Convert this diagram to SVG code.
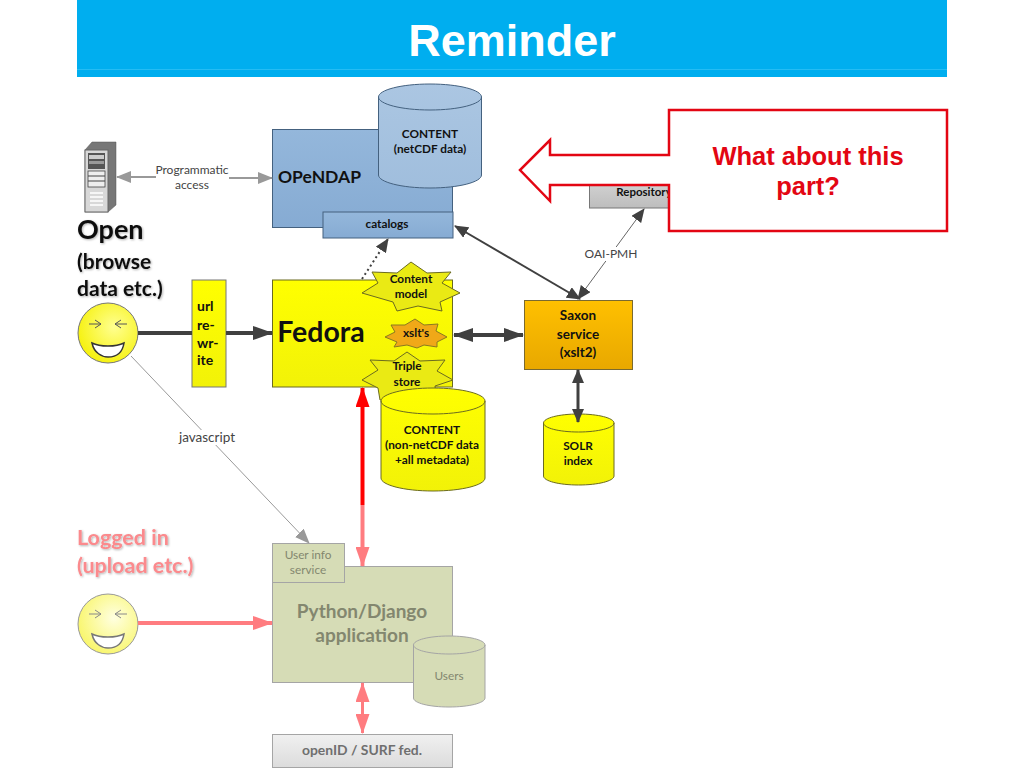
<svg xmlns="http://www.w3.org/2000/svg" width="1024" height="768" viewBox="0 0 1024 768">
<style>
text{font-family:"Lato","Carlito","Liberation Sans",sans-serif;font-weight:700;text-anchor:middle;fill:#111}
.s{font-size:11.8px}
.m{font-size:13.5px}
.l{font-weight:400;font-size:12px;fill:#444}
.a{font-family:"Liberation Sans",Arial,sans-serif}
.pk{fill:#fb8a8d}
.gr{fill:#83876f}
</style>
<defs>
<linearGradient id="blue" x1="0" y1="0" x2="0" y2="1"><stop offset="0" stop-color="#94b7db"/><stop offset="1" stop-color="#86abd3"/></linearGradient>
<linearGradient id="cyl" x1="0" y1="0" x2="0" y2="1"><stop offset="0" stop-color="#abc6e2"/><stop offset="1" stop-color="#a0bedd"/></linearGradient>
<linearGradient id="yel" x1="0" y1="0" x2="0" y2="1"><stop offset="0" stop-color="#ffff00"/><stop offset="1" stop-color="#f2f208"/></linearGradient>
<linearGradient id="or" x1="0" y1="0" x2="0" y2="1"><stop offset="0" stop-color="#ffc000"/><stop offset="1" stop-color="#e8a800"/></linearGradient>
<linearGradient id="gy" x1="0" y1="0" x2="0" y2="1"><stop offset="0" stop-color="#f0f0f0"/><stop offset="1" stop-color="#dcdcdc"/></linearGradient>
<linearGradient id="rp" x1="0" y1="0" x2="0" y2="1"><stop offset="0" stop-color="#d4d4d4"/><stop offset="1" stop-color="#bdbdbd"/></linearGradient>
<radialGradient id="sm" cx="0.6" cy="0.4" r="0.7"><stop offset="0" stop-color="#ffff90"/><stop offset="1" stop-color="#f5f000"/></radialGradient>
<radialGradient id="sm2" cx="0.6" cy="0.4" r="0.7"><stop offset="0" stop-color="#ffffe0"/><stop offset="1" stop-color="#f8f560"/></radialGradient>
<filter id="sh" x="-10%" y="-10%" width="120%" height="130%"><feDropShadow dx="1" dy="1" stdDeviation="1" flood-color="#000" flood-opacity="0.3"/></filter>
<marker id="hd" markerUnits="userSpaceOnUse" markerWidth="20" markerHeight="14" refX="19" refY="7" orient="auto-start-reverse"><path d="M0 0L20 7L0 14Z" fill="#404040"/></marker>
<marker id="hs" markerUnits="userSpaceOnUse" markerWidth="14" markerHeight="12" refX="13" refY="6" orient="auto-start-reverse"><path d="M0 0L14 6L0 12Z" fill="#404040"/></marker>
<marker id="hg" markerUnits="userSpaceOnUse" markerWidth="15" markerHeight="12" refX="14" refY="6" orient="auto"><path d="M0 0L15 6L0 12Z" fill="#999"/></marker>
<marker id="hp" markerUnits="userSpaceOnUse" markerWidth="20" markerHeight="14" refX="19" refY="7" orient="auto-start-reverse"><path d="M0 0L20 7L0 14Z" fill="#ff7c80"/></marker>
<marker id="hr" markerUnits="userSpaceOnUse" markerWidth="20" markerHeight="14" refX="19" refY="7" orient="auto"><path d="M0 0L20 7L0 14Z" fill="#ff0000"/></marker>
</defs>
<rect width="1024" height="768" fill="#fff"/>
<g id="title"><rect x="77" y="0" width="870" height="77" fill="#00aeef"/><rect x="77" y="69" width="870" height="1" fill="#25bcf3"/>
<text class="a" x="512" y="56" style="fill:#fff;font-size:45px">Reminder</text></g>

<g id="opendap"><rect x="272.500" y="129.500" width="180" height="98" fill="url(#blue)" stroke="#44617f"/>
<text x="319.500" y="183" style="font-size:17.500px">OPeNDAP</text></g>
<g id="content-netcdf"><path d="M378.500 97V175C378.500 182 401 188 430 188S481.500 182 481.500 175V97C481.500 90 459 84 430 84S378.500 90 378.500 97Z" fill="url(#cyl)" stroke="#44617f"/><path d="M378.500 97C378.500 104 401 110 430 110S481.500 104 481.500 97" fill="none" stroke="#44617f"/>
<text class="s" x="430" y="138">CONTENT</text><text class="s" x="430" y="153">(netCDF data)</text></g>
<g id="catalogs"><rect x="323" y="212" width="130" height="26" fill="url(#blue)" stroke="#44617f"/><text class="s" x="387" y="228">catalogs</text></g>

<g id="server"><path d="M85 150L92 142H116V205L108 212H85Z" fill="#777" stroke="#555" stroke-width="0.500"/><rect x="85" y="150" width="23" height="62" fill="#d8d8d8" stroke="#666"/><rect x="88" y="153" width="17" height="16" fill="#555"/><rect x="89" y="155" width="15" height="4" fill="#ccc"/><rect x="89" y="161" width="15" height="3" fill="#999"/><rect x="88" y="171" width="17" height="16" fill="#eee" stroke="#444" stroke-width="0.800"/><path d="M88 176H105M88 181H105" stroke="#444"/><path d="M90 193H103M90 197H103M90 201H103M90 205H103" stroke="#fff" stroke-width="1.500"/></g>

<g id="open-label" filter="url(#sh)"><text x="77" y="239" style="font-size:27px;text-anchor:start">Open</text><text x="77" y="269" style="font-size:21px;text-anchor:start">(browse</text><text x="77" y="296" style="font-size:21px;text-anchor:start">data etc.)</text></g>
<g id="smiley-open"><circle cx="108" cy="333" r="30" fill="url(#sm)" stroke="#777"/><path d="M89 324H101M95 320L101 324L95 328M127 324H115M121 320L115 324L121 328" fill="none" stroke="#555"/><path d="M92 343C100 347 116 347 124 343C122 356 112 357 108 357C102 357 94 353 92 343Z" fill="#fff" stroke="#333" stroke-width="1.500"/></g>
<g id="url-rewrite"><rect x="192" y="280" width="34" height="107" fill="url(#yel)" stroke="#777"/><text x="197" y="311" style="font-size:14px;text-anchor:start">url</text><text x="197" y="330" style="font-size:14px;text-anchor:start">re-</text><text x="197" y="348" style="font-size:14px;text-anchor:start">wr-</text><text x="197" y="365" style="font-size:14px;text-anchor:start">ite</text></g>
<g id="fedora"><rect x="272.500" y="280" width="180" height="107" fill="url(#yel)" stroke="#6b6b20"/><text x="321" y="342" style="font-size:28.500px">Fedora</text></g>
<g id="star-content"><polygon points="411,262 427,273 451,272 442,283 460,293 440,302 442,311 418,306 397,311 393,302 362,293 378,283 372,272 397,273" fill="#eaea14" stroke="#6b6b20"/><text class="s" x="411" y="283">Content</text><text class="s" x="411" y="298">model</text></g>
<g id="star-xslt"><polygon points="415,319 424,325 438,324 436,331 447,337 437,342 437,347 424,345 417,348 407,345 394,347 397,342 385,337 395,332 391,325 405,325" fill="#f0a818" stroke="#8a7a20"/><text class="s" x="416" y="337">xslt's</text></g>
<g id="star-triple"><polygon points="407,352 420,361 445,360 437,371 453,380 435,386 436,400 380,400 378,388 362,380 378,370 370,360 394,361" fill="#eaea14" stroke="#6b6b20"/><text class="s" x="407" y="370">Triple</text><text class="s" x="407" y="386">store</text></g>
<g id="content-meta"><path d="M381 401V478C381 485 404 491 433 491S485 485 485 478V401C485 394 462 388 433 388S381 394 381 401Z" fill="url(#yel)" stroke="#6b6b20"/><path d="M381 401C381 408 404 414 433 414S485 408 485 401" fill="none" stroke="#6b6b20"/><text class="s" x="432" y="434">CONTENT</text><text class="s" x="432" y="449">(non-netCDF data</text><text class="s" x="432" y="464">+all metadata)</text></g>
<g id="saxon"><rect x="524.500" y="300.500" width="108" height="69" fill="url(#or)" stroke="#7a6a30"/><text class="m" x="578" y="320">Saxon</text><text class="m" x="578" y="339">service</text><text class="m" x="578" y="357">(xslt2)</text></g>
<g id="solr"><path d="M543.500 423V476C543.500 481 559 485 578.500 485S614 481 614 476V423C614 418 598 414 578.500 414S543.500 418 543.500 423Z" fill="url(#yel)" stroke="#6b6b20"/><path d="M543.500 423C543.500 428 559 432 578.500 432S614 428 614 423" fill="none" stroke="#6b6b20"/><text class="s" x="578" y="450">SOLR</text><text class="s" x="578" y="465">index</text></g>

<g id="logged-label" filter="url(#sh)"><text class="pk" x="77" y="545" style="font-size:21.500px;text-anchor:start">Logged in</text><text class="pk" x="77" y="573" style="font-size:21.500px;text-anchor:start">(upload etc.)</text></g>
<g id="smiley-logged"><circle cx="108" cy="624" r="30" fill="url(#sm2)" stroke="#999"/><path d="M89 614H101M95 610L101 614L95 618M127 614H115M121 610L115 614L121 618" fill="none" stroke="#888"/><path d="M92 634C100 638 116 638 124 634C122 647 112 648 108 648C102 648 94 644 92 634Z" fill="#fff" stroke="#777" stroke-width="1.500"/></g>
<g id="django"><rect x="272.500" y="566.500" width="180" height="116" fill="#d6dcb6" stroke="#a5a5a5"/><text class="gr" x="362" y="618" style="font-size:19px">Python/Django</text><text class="gr" x="362" y="642" style="font-size:19px">application</text></g>
<g id="user-info"><rect x="272.500" y="543.500" width="72" height="39" fill="#d6dcb6" stroke="#a5a5a5"/><text class="s gr" x="308" y="559" style="font-weight:400">User info</text><text class="s gr" x="308" y="574" style="font-weight:400">service</text></g>
<g id="users"><path d="M413.500 645V698C413.500 703 429 707 449 707S485 703 485 698V645C485 640 469 636 449 636S413.500 640 413.500 645Z" fill="#d6dcb6" stroke="#a5a5a5"/><path d="M413.500 645C413.500 650 429 654 449 654S485 650 485 645" fill="none" stroke="#a5a5a5"/><text class="s gr" x="449" y="680" style="font-weight:400">Users</text></g>
<g id="openid"><rect x="272.500" y="734.500" width="180" height="33" fill="url(#gy)" stroke="#a5a5a5"/><text class="gr" x="362" y="755" style="font-size:13.900px;fill:#6f6f6f">openID / SURF fed.</text></g>
<g id="repository"><rect x="589.500" y="180" width="90" height="28" fill="url(#rp)" stroke="#777"/><text x="644" y="196" style="font-size:11.500px">Repository</text></g>

<g id="connectors" fill="none">
<path d="M156 177H117" stroke="#999" stroke-width="2" marker-end="url(#hg)"/>
<path d="M229 178H272" stroke="#999" stroke-width="2" marker-end="url(#hg)"/>
<path d="M138 333H192M226 333H272" stroke="#404040" stroke-width="4"/>
<path d="M252 333H272" stroke="#404040" stroke-width="4" marker-end="url(#hd)"/>
<path d="M362 279L388 239" stroke="#404040" stroke-width="2" stroke-dasharray="2 3" marker-end="url(#hs)"/>
<path d="M455 226L580 299" stroke="#404040" stroke-width="2" marker-start="url(#hs)" marker-end="url(#hs)"/>
<path d="M644 209L578 299" stroke="#666" stroke-width="1" marker-start="url(#hs)" marker-end="url(#hs)"/>
<path d="M454 335H523" stroke="#404040" stroke-width="4" marker-start="url(#hd)" marker-end="url(#hd)"/>
<path d="M578 370V422" stroke="#404040" stroke-width="3" marker-start="url(#hs)" marker-end="url(#hs)"/>
<path d="M131 356L309 543" stroke="#999" stroke-width="1" marker-end="url(#hg)"/>
<path d="M362.500 505V388" stroke="#ff0000" stroke-width="4" marker-end="url(#hr)"/>
<path d="M362.500 505V566" stroke="#ff7c80" stroke-width="4" marker-end="url(#hp)"/>
<path d="M138 623H272" stroke="#ff7c80" stroke-width="4" marker-end="url(#hp)"/>
<path d="M362.500 683V733" stroke="#ff7c80" stroke-width="3" marker-start="url(#hp)" marker-end="url(#hp)"/>
</g>
<g id="edge-labels">
<text class="l" x="192" y="174">Programmatic</text><text class="l" x="192" y="189">access</text>
<rect x="176" y="430" width="64" height="15" fill="#fff"/><text class="l" x="207" y="442" style="font-size:13.500px">javascript</text>
<rect x="584" y="247" width="54" height="14" fill="#fff"/><text class="l" x="611" y="258">OAI-PMH</text>
</g>
<g id="callout"><path d="M669 110H947V231H669V185H550V201L520 170L550 140V155H669Z" fill="#fff" stroke="#e30613" stroke-width="2.500"/>
<text class="a" x="808" y="165" style="font-size:25.500px;fill:#e30613">What about this</text><text class="a" x="808" y="195" style="font-size:25.500px;fill:#e30613">part?</text></g>
</svg>
